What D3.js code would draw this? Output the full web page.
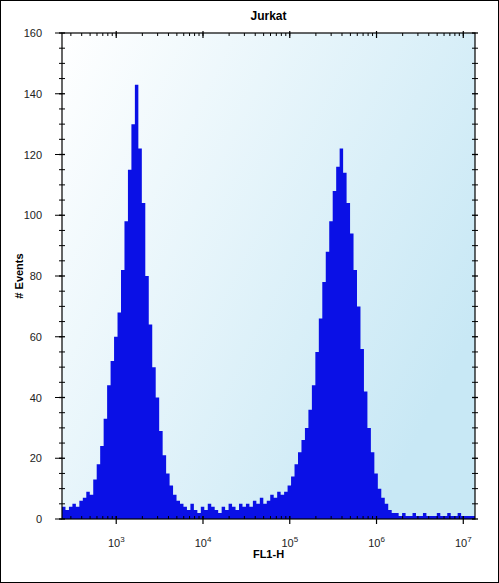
<!DOCTYPE html>
<html>
<head>
<meta charset="utf-8">
<script src="https://cdn.jsdelivr.net/npm/d3@7"></script>
<style>
  body { margin: 0; background: #fff; }
  text { font-family: "Liberation Sans", Arial, sans-serif; }
</style>
</head>
<body>
<script>
var W = 499, H = 583;
var margin = {top: 33, right: 24, bottom: 64, left: 62};

// histogram: log10 bin starts, step 0.04 decade
var binStart = 2.375, binStep = 0.04;
var counts = [
  4,3,4,5,4,6, 7,9,8,13,
  18,24,33,44,52,60,68,82,98,115,130,143,122,104,80,64,50,40,29,21,15,11,8,6,5,
  4,3,5,3,2,4,3,5,4,3,2,4,3,5,4,3,5,4,
  5,4,6,5,7,5,6,8,7,9,
  8,9,11,14,18,22,26,30,36,44,55,66,78,88,98,108,116,122,114,104,94,82,70,56,42,30,22,15,10,7,5,3,2,2,
  1,2,1,1,2,1,1,2,1,1,1,2,1,1,2,1,1,2,1,1,1,1
];
var yTicks = [0,20,40,60,80,100,120,140,160];
var xDecades = [3,4,5,6,7];
var title = "Jurkat", xLabel = "FL1-H", yLabel = "# Events";

var svg = d3.select("body").append("svg").attr("width", W).attr("height", H);
svg.append("rect").attr("x",0.5).attr("y",0.5).attr("width",W-1).attr("height",H-1)
    .attr("fill","#fff").attr("stroke","#000");

var w = W - margin.left - margin.right, h = H - margin.top - margin.bottom;
var defs = svg.append("defs");
var grad = defs.append("linearGradient").attr("id","bg")
    .attr("x1","0").attr("y1","0").attr("x2","1").attr("y2","0.6");
grad.append("stop").attr("offset","0").attr("stop-color","#ffffff");
grad.append("stop").attr("offset","1").attr("stop-color","#c8e8f5");

var g = svg.append("g").attr("transform","translate("+margin.left+","+margin.top+")");
g.append("rect").attr("width",w).attr("height",h).attr("fill","url(#bg)");

var x = d3.scaleLog().domain([Math.pow(10,binStart), Math.pow(10,binStart+binStep*counts.length)]).range([0,w]);
var y = d3.scaleLinear().domain([0,160]).range([h,0]);

var pts = counts.map(function(c,i){ return [Math.pow(10,binStart+binStep*i), c]; });
pts.push([Math.pow(10,binStart+binStep*counts.length), counts[counts.length-1]]);
var area = d3.area().curve(d3.curveStepAfter)
    .x(function(d){ return x(d[0]); }).y0(h).y1(function(d){ return y(d[1]); });
g.append("path").datum(pts).attr("d", area).attr("fill","#0a10e6");

// frame
g.append("rect").attr("width",w).attr("height",h).attr("fill","none").attr("stroke","#000").attr("stroke-width",1.2);

// y ticks (minor every 5) on both sides
var minorY = d3.range(0,161,5);
[0, w].forEach(function(px){
  g.selectAll(null).data(minorY).enter().append("line")
    .attr("x1", px-3).attr("x2", px+3)
    .attr("y1", function(d){ return y(d); }).attr("y2", function(d){ return y(d); })
    .attr("stroke","#000").attr("stroke-width", function(d){ return d%20===0 ? 1.3 : 1; });
});
g.selectAll(null).data(yTicks).enter().append("line")
  .attr("x1",-7).attr("x2",0).attr("y1",function(d){return y(d);}).attr("y2",function(d){return y(d);})
  .attr("stroke","#000");
g.selectAll(null).data(yTicks).enter().append("text")
  .attr("x",-20).attr("y",function(d){return y(d)+4;})
  .attr("text-anchor","end").attr("font-size",11).attr("fill","#222")
  .text(function(d){return d;});

// x ticks: log minor ticks on top and bottom
var minorX = [];
for (var dec = 2; dec <= 7; dec++) for (var m = 1; m < 10; m++) {
  var v = m*Math.pow(10,dec);
  if (v >= x.domain()[0] && v <= x.domain()[1]) minorX.push(v);
}
[0, h].forEach(function(py){
  g.selectAll(null).data(minorX).enter().append("line")
    .attr("x1",function(d){return x(d);}).attr("x2",function(d){return x(d);})
    .attr("y1", py===0 ? 0 : py-3).attr("y2", py===0 ? 3 : py)
    .attr("stroke","#000");
  g.selectAll(null).data(xDecades).enter().append("line")
    .attr("x1",function(d){return x(Math.pow(10,d));}).attr("x2",function(d){return x(Math.pow(10,d));})
    .attr("y1", py===0 ? -2 : py-3).attr("y2", py===0 ? 5 : py+5)
    .attr("stroke","#000").attr("stroke-width",1.2);
});
var xl = g.selectAll(null).data(xDecades).enter().append("text")
  .attr("x",function(d){return x(Math.pow(10,d));}).attr("y",h+28)
  .attr("text-anchor","middle").attr("font-size",11).attr("fill","#222");
xl.append("tspan").text("10");
xl.append("tspan").attr("dy",-5).attr("font-size",8).text(function(d){return d;});

svg.append("text").attr("x", margin.left+w/2).attr("y",20).attr("text-anchor","middle")
  .attr("font-size",12).attr("font-weight","bold").text(title);
svg.append("text").attr("x", margin.left+w/2).attr("y",margin.top+h+39).attr("text-anchor","middle")
  .attr("font-size",11).attr("font-weight","bold").text(xLabel);
svg.append("text").attr("transform","translate(23,"+(margin.top+h/2)+") rotate(-90)")
  .attr("text-anchor","middle").attr("font-size",11).attr("font-weight","bold").text(yLabel);
</script>
</body>
</html>
